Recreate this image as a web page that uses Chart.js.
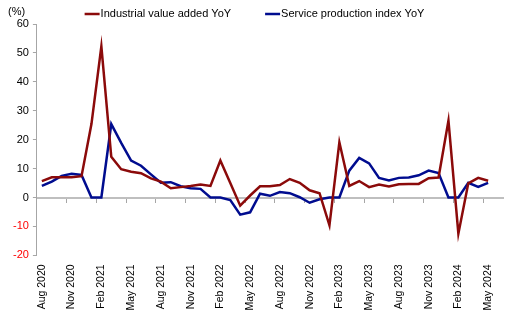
<!DOCTYPE html>
<html>
<head>
<meta charset="utf-8">
<script src="https://cdn.jsdelivr.net/npm/chart.js@4"></script>
<style>
  html, body { margin: 0; padding: 0; background: #fff; }
  #wrap { width: 509px; height: 313px; }
</style>
</head>
<body>
<div id="wrap"><canvas id="chart"></canvas></div>
<script>
const months = [
  'Aug 2020', 'Sep 2020', 'Oct 2020', 'Nov 2020', 'Dec 2020', 'Jan 2021',
  'Feb 2021', 'Mar 2021', 'Apr 2021', 'May 2021', 'Jun 2021', 'Jul 2021',
  'Aug 2021', 'Sep 2021', 'Oct 2021', 'Nov 2021', 'Dec 2021', 'Jan 2022',
  'Feb 2022', 'Mar 2022', 'Apr 2022', 'May 2022', 'Jun 2022', 'Jul 2022',
  'Aug 2022', 'Sep 2022', 'Oct 2022', 'Nov 2022', 'Dec 2022', 'Jan 2023',
  'Feb 2023', 'Mar 2023', 'Apr 2023', 'May 2023', 'Jun 2023', 'Jul 2023',
  'Aug 2023', 'Sep 2023', 'Oct 2023', 'Nov 2023', 'Dec 2023', 'Jan 2024',
  'Feb 2024', 'Mar 2024', 'Apr 2024', 'May 2024', 'Jun 2024'
]

const industrialYoY = [
  5.7, 7.0, 7.0, 7.0, 7.4, 25.4, 52.3, 14.1, 9.8, 8.9, 8.4, 6.6,
  5.5, 3.2, 3.6, 4.0, 4.5, 4.0, 12.8, 5.0, -2.8, 0.7, 3.9, 3.9,
  4.3, 6.4, 5.1, 2.5, 1.5, -9.6, 19.1, 4.0, 5.7, 3.6, 4.5, 3.8,
  4.6, 4.7, 4.7, 6.7, 6.9, 26.6, -12.5, 4.9, 6.8, 5.8, null
]

const serviceYoY = [
  4.0, 5.5, 7.5, 8.2, 7.8, 0, 0, 25.4, 18.9, 12.8, 11.0, 8.0,
  5.1, 5.3, 3.9, 3.2, 3.0, 0, 0, -0.9, -5.9, -5.1, 1.3, 0.6,
  1.9, 1.5, 0.1, -1.8, -0.6, 0, 0, 9.3, 13.7, 11.8, 6.8, 5.9,
  6.8, 6.9, 7.7, 9.3, 8.5, 0, 0, 5.1, 3.7, 5.1, null
]

const yTicks = { min: -20, max: 60, step: 10 }

const FONT = { family: "'Liberation Sans', Arial, sans-serif", size: 11 }
const GREY = '#a6a6a6'

// legend and unit label, drawn on top of the chart
const headerPlugin = {
  id: 'header',
  afterDraw (chart) {
    const ctx = chart.ctx
    ctx.save()
    ctx.font = `${FONT.size}px ${FONT.family}`
    ctx.textBaseline = 'middle'
    ctx.fillStyle = '#000'
    ctx.fillText('(%)', 8, 12)

    const lineW = 15
    const gap = 1
    const spacing = 34
    const items = chart.data.datasets.map(ds => ({
      text: ds.label, color: ds.borderColor, w: ctx.measureText(ds.label).width
    }))
    const total = items.reduce((s, it) => s + lineW + gap + it.w, 0) + spacing * (items.length - 1)
    let x = (chart.width - total) / 2
    const y = 14
    items.forEach(it => {
      ctx.strokeStyle = it.color
      ctx.lineWidth = 2.5
      ctx.beginPath()
      ctx.moveTo(x, y)
      ctx.lineTo(x + lineW, y)
      ctx.stroke()
      ctx.fillText(it.text, x + lineW + gap, y)
      x += lineW + gap + it.w + spacing
    })
    ctx.restore()
  }
}

const ctx = document.getElementById('chart')
const myChart = new Chart(ctx, {
  type: 'line',
  data: {
    labels: months,
    datasets: [
      {
        label: 'Industrial value added YoY',
        data: industrialYoY,
        borderColor: '#8b0a0a',
        borderWidth: 2.5,
        pointRadius: 0,
        tension: 0,
        xAxisID: 'x'
      },
      {
        label: 'Service production index YoY',
        data: serviceYoY,
        borderColor: '#000c8f',
        borderWidth: 2.5,
        pointRadius: 0,
        tension: 0,
        xAxisID: 'x'
      }
    ]
  },
  options: {
    responsive: true,
    maintainAspectRatio: false,
    animation: false,
    layout: { padding: { left: 9, right: 6, top: 24, bottom: 1.5 } },
    plugins: {
      legend: { display: false },
      tooltip: { enabled: false }
    },
    scales: {
      // axis sitting on the zero line: carries the tick marks
      x: {
        type: 'category',
        position: { y: 0 },
        offset: true,
        border: { color: '#bfbfbf', width: 2 },
        grid: {
          offset: true,
          drawOnChartArea: false,
          tickLength: 4,
          lineWidth: 1,
          color: (c) => (c.index % 3 === 0 ? GREY : 'rgba(0,0,0,0)')
        },
        ticks: { display: false, autoSkip: false }
      },
      // axis at the bottom: carries the rotated month labels
      x2: {
        type: 'category',
        labels: months,
        position: 'bottom',
        offset: true,
        border: { display: false },
        grid: { display: false },
        ticks: {
          autoSkip: false,
          minRotation: 90,
          maxRotation: 90,
          padding: 1,
          color: '#000',
          font: { family: FONT.family, size: 10.5 },
          callback: function (value, index) {
            return index % 3 === 0 && index < 46 ? this.getLabelForValue(value) : null
          }
        }
      },
      y: {
        min: yTicks.min,
        max: yTicks.max,
        border: { color: GREY, width: 1 },
        grid: { drawOnChartArea: false, tickLength: 4, color: GREY },
        ticks: {
          stepSize: yTicks.step,
          padding: 4,
          font: FONT,
          color: (c) => (c.tick.value < 0 ? '#ff0000' : '#000')
        }
      }
    }
  },
  plugins: [headerPlugin]
})
</script>
</body>
</html>
